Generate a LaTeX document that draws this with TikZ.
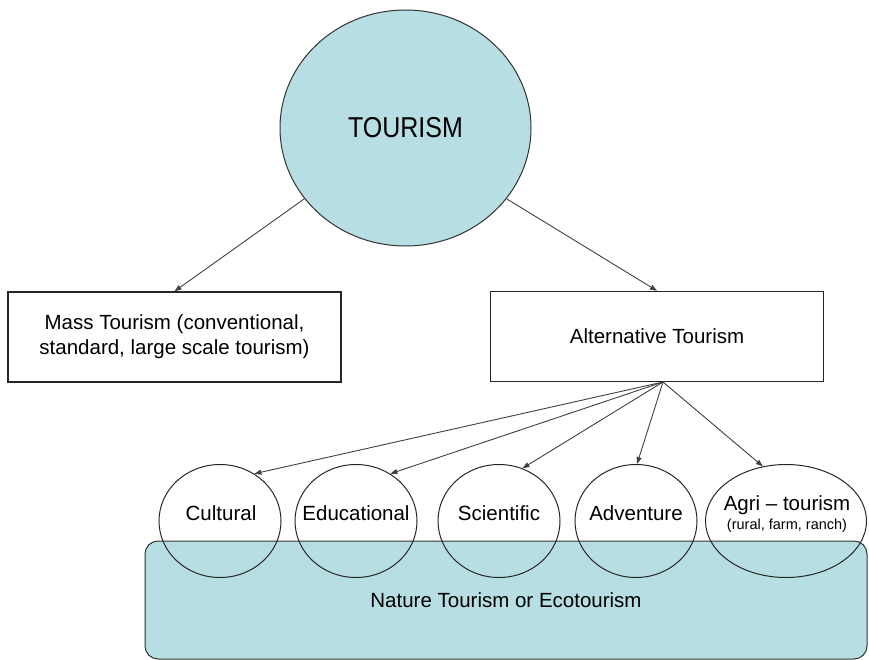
\documentclass[tikz,border=0pt]{standalone}
\usepackage{fontspec}
\setmainfont{Liberation Sans}
\usetikzlibrary{shapes.geometric,arrows.meta}
\definecolor{teal1}{RGB}{183,222,226}
\begin{document}
\begin{tikzpicture}[x=1pt,y=-1pt,
  conn/.style={draw=black!75, line width=0.9pt, -{Triangle[length=7pt,width=5pt]}},
  bigoval/.style={ellipse, draw=black!80, line width=1pt, fill=teal1, minimum width=251pt, minimum height=236pt, inner sep=0pt, font=\fontsize{25}{30}\selectfont},
  rect/.style={draw=black!85, line width=1.4pt, minimum width=333pt, minimum height=90pt, inner sep=0pt, align=center, font=\fontsize{20.5}{25}\selectfont},
  smalloval/.style={ellipse, draw=black!85, line width=1pt, minimum width=122pt, minimum height=113pt, inner sep=0pt},
  txt/.style={font=\fontsize{20.5}{25}\selectfont, inner sep=0pt, align=center},
  ecobox/.style={draw=black!80, line width=1pt, rounded corners=13pt, fill=teal1, minimum width=722pt, minimum height=118pt, inner sep=0pt, font=\fontsize{20.5}{25}\selectfont}]
\useasboundingbox (0,0) rectangle (869,660);
% top level
\node[bigoval] (tour) at (405.5,128) {\scalebox{1}[1.15]{TOURISM}};
\node[rect] (mass) at (174.5,337) {Mass Tourism (conventional,\\standard, large scale tourism)};
\node[rect] (alt) at (657,336.5) {Alternative Tourism};
\draw[conn] (tour.-145) -- (mass.north);
\draw[conn] (tour.-35) -- (alt.north);
% eco box
\node[ecobox] (eco) at (506,600) {Nature Tourism or Ecotourism};
% small ovals
\node[smalloval] (cult) at (220,521) {};
\node[smalloval] (edu) at (356,521) {};
\node[smalloval] (sci) at (499,521) {};
\node[smalloval] (adv) at (636,521) {};
\node[smalloval, minimum width=161pt] (agri) at (786,521) {};
\node[txt] (cultT) at (221,513) {Cultural};
\node[txt] (eduT) at (356,513) {Educational};
\node[txt] (sciT) at (499,513) {Scientific};
\node[txt] (advT) at (636,513) {Adventure};
\node[txt] (agriT) at (787,505) {Agri -- tourism};
\node[txt, font=\fontsize{14.5}{17}\selectfont] (agriS) at (787,526) {(rural, farm, ranch)};
% connectors from Alternative Tourism
\coordinate (hub) at (663,382);
\draw[conn] (hub) -- (cult.54);
\draw[conn] (hub) -- (edu.54);
\draw[conn] (hub) -- (sci.66);
\draw[conn] (hub) -- (adv.89);
\draw[conn] (hub) -- (agri.113);
\end{tikzpicture}
\end{document}
